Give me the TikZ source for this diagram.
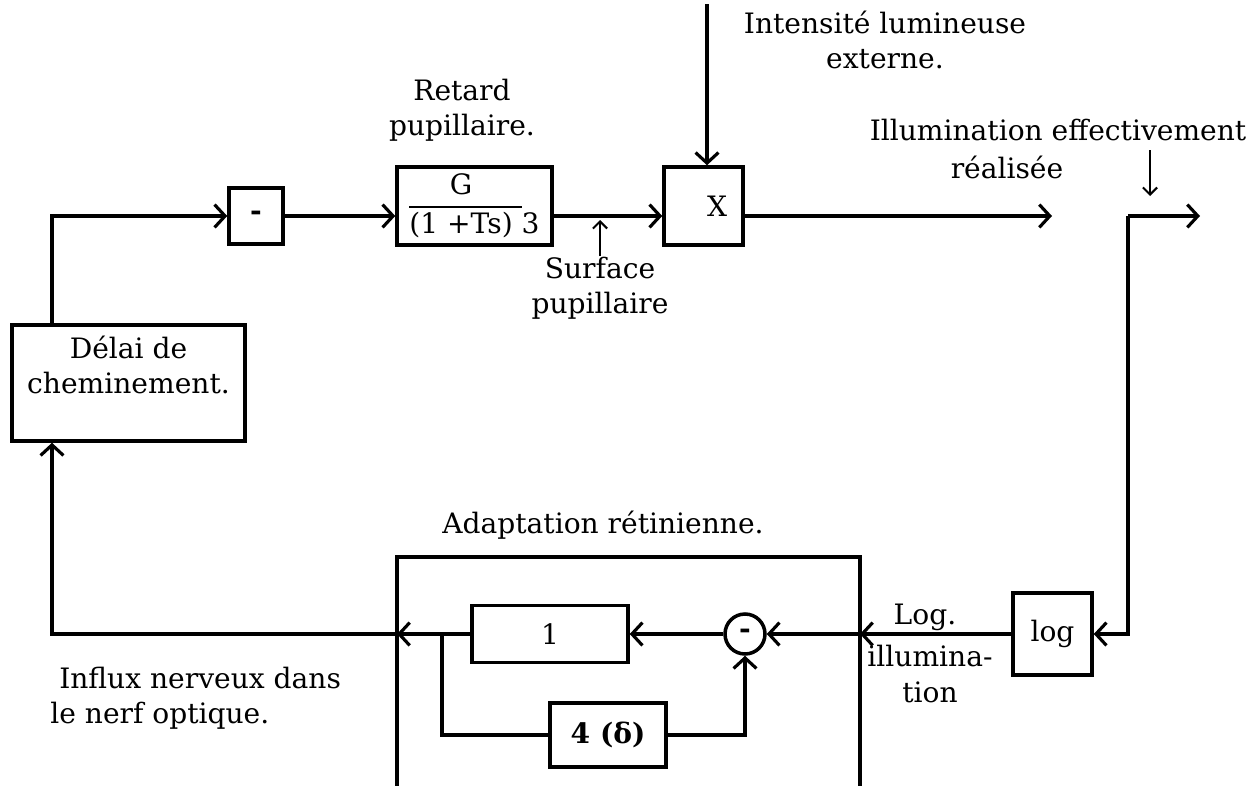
\documentclass[tikz,border=0pt]{standalone}
\usepackage{fontspec}
\setmainfont{DejaVu Serif}
\usetikzlibrary{arrows.meta,positioning}

\tikzset{
  blk/.style={draw,line width=2pt,inner sep=0pt},
  ln/.style={line width=2pt},
  fl/.style={line width=2pt,-{Straight Barb[length=6pt,width=13pt,line width=1.8pt]}},
  petite/.style={line width=1.3pt,-{Straight Barb[length=4pt,width=8pt,line width=1.2pt]}},
  txt/.style={align=center,inner sep=0pt,font=\fontsize{16}{20}\selectfont},
}

\begin{document}
\begin{tikzpicture}[x=0.02cm,y=-0.02cm,font=\fontsize{16}{20}\selectfont]
  \useasboundingbox (0,0) rectangle (1258,785);
  % blocs de la chaine directe
  \node[blk,minimum width=4.66cm,minimum height=2.32cm] (delai) at (128.5,383) {};
  \node[txt] (delaitxt) at (128.5,365) {Délai de\\cheminement.};
  \node[blk,minimum width=1.08cm,minimum height=1.12cm] (moins) at (256,216) {\bfseries -};
  \node[blk,minimum width=3.1cm,minimum height=1.56cm] (gbox) at (474.5,206)
    {\renewcommand{\arraystretch}{1.1}\setlength{\arrayrulewidth}{1.2pt}%
     \begin{tabular}{@{}c@{ }c@{}}G & \\ \cline{1-1} (1 +Ts) & 3\end{tabular}};
  \node[blk,minimum width=1.58cm,minimum height=1.56cm] (xbox) at (703.5,206) {\hspace*{0.55cm}X};
  \node[blk,minimum width=1.58cm,minimum height=1.64cm] (logbox) at (1052.5,634) {log};
  % adaptation retinienne
  \coordinate (adaptNO) at (397,557);
  \coordinate (adaptNE) at (860,557);
  \coordinate (adaptW) at (397,634);
  \coordinate (adaptE) at (860,634);
  \draw[ln] (397,790) -- (adaptNO) -- (adaptNE) -- (860,790);
  \node[txt] (adapttxt) at (603,525) {Adaptation rétinienne.};
  \node[blk,minimum width=3.12cm,minimum height=1.14cm] (un) at (550,634) {1};
  \node[blk,circle,minimum size=0.8cm] (somme) at (745,634) {\bfseries -};
  \node[blk,minimum width=2.32cm,minimum height=1.28cm] (quatre) at (608,735) {\bfseries 4 (δ)};
  \coordinate (branche) at (442,634);
  \coordinate (retour) at (52,634);
  % liaisons
  \draw[fl] (logbox.west) -- (adaptE);
  \draw[fl] (adaptE) -- (somme.east);
  \draw[fl] (somme.west) -- (un.east);
  \draw[fl] (un.west) -- (adaptW);
  \draw[ln] (branche) |- (quatre.west);
  \draw[fl] (quatre.east) -| (somme.south);
  \draw[fl] (adaptW) -- (retour) -- (retour |- delai.south);
  \draw[fl] (retour |- delai.north) |- (moins.west);
  \draw[fl] (moins.east) -- (moins.east -| gbox.west);
  \draw[fl] (moins.east -| gbox.east) -- (moins.east -| xbox.west);
  % entree et sortie
  \coordinate (intens) at (707,4);
  \draw[fl] (intens) -- (intens |- xbox.north);
  \coordinate (sortie) at (1052,216);
  \draw[fl] (moins.east -| xbox.east) -- (sortie);
  \coordinate (coin) at (1128,216);
  \coordinate (sortie2) at (1200,216);
  \draw[fl] (coin) -- (sortie2);
  \draw[fl] (coin) |- (logbox.east);
  % etiquettes
  \node[txt] (intenstxt) at (885,40) {Intensité lumineuse\\externe.};
  \node[txt] (retardtxt) at (462,110) {Retard\\pupillaire.};
  \node[txt] (surftxt) at (600,288) {Surface\\pupillaire};
  \draw[petite] (surftxt.north) -- (600,220);
  \node[txt] (illum1) at (1058,130) {Illumination effectivement};
  \node[txt] (illum2) at (1007,167) {réalisée};
  \coordinate (reel) at (1150,150);
  \draw[petite] (reel) -- (1150,196);
  \node[txt] (logtxt) at (925,617) {Log.};
  \node[txt] (illumtxt) at (930,674) {illumina-\\tion};
  \node[txt,align=left,anchor=west] (influx) at (50,698) {\ Influx nerveux dans\\le nerf optique.};
\end{tikzpicture}
\end{document}
